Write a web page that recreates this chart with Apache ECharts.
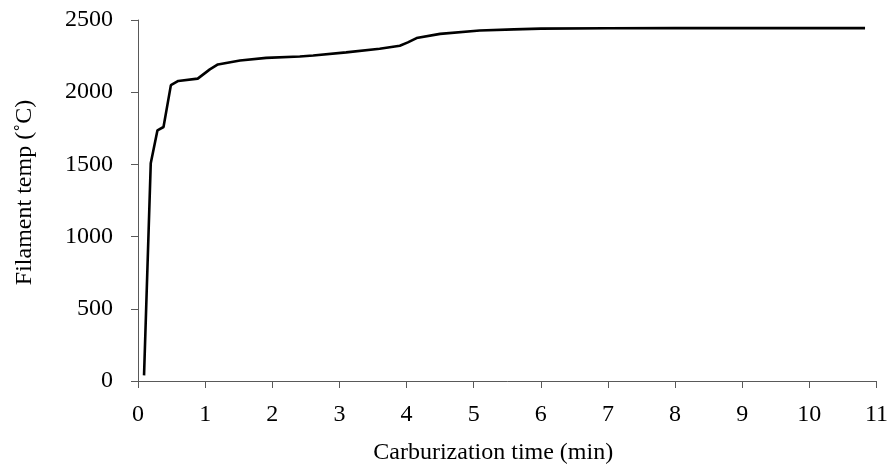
<!DOCTYPE html>
<html>
<head>
<meta charset="utf-8">
<script src="https://cdn.jsdelivr.net/npm/echarts@6/dist/echarts.min.js"></script>
<style>html,body{margin:0;padding:0;background:#fff}#c{width:891px;height:470px}</style>
</head>
<body>
<div id="c"></div>
<script>
var times = [0.09, 0.19, 0.29, 0.38, 0.49, 0.6, 0.89, 1.07, 1.19, 1.52, 1.91, 2.41, 2.61, 3.1, 3.6, 3.9, 4.02, 4.15, 4.5, 5.09, 5.6, 6.0, 7.0, 8.0, 9.0, 10.0, 10.83];
var temps = [39, 1508, 1736, 1759, 2049, 2078, 2094, 2158, 2192, 2219, 2238, 2247, 2254, 2276, 2301, 2322, 2345, 2375, 2404, 2427, 2435, 2440, 2443, 2444, 2444, 2444, 2444];
var xTicks = [0,1,2,3,4,5,6,7,8,9,10,11];
var yTicks = [0,500,1000,1500,2000,2500];

var pts = times.map(function(t,i){return [t, temps[i]];});
var font = '"Liberation Serif", "Times New Roman", serif';
var axisCol = '#595959';
var chart = echarts.init(document.getElementById('c'));
chart.setOption({
  animation: false,
  grid: {left: 138, right: 14, top: 20, bottom: 84},
  xAxis: {
    type: 'value', min: xTicks[0], max: xTicks[xTicks.length-1], interval: 1,
    name: 'Carburization time (min)', nameLocation: 'middle', nameGap: 60,
    nameTextStyle: {fontFamily: font, fontSize: 24, color: '#000', padding: [0, 28, 0, 0]},
    axisLine: {show: true, lineStyle: {color: axisCol, width: 1}},
    axisTick: {show: true, length: 7, lineStyle: {color: axisCol}},
    axisLabel: {fontFamily: font, fontSize: 24, color: '#000', margin: 22,
      formatter: function(v){return String(v);}},
    splitLine: {show: false}
  },
  yAxis: {
    type: 'value', min: yTicks[0], max: yTicks[yTicks.length-1], interval: 500,
    name: 'Filament temp (˚C)', nameLocation: 'middle', nameGap: 101,
    nameTextStyle: {fontFamily: font, fontSize: 24, color: '#000', padding: [0, 0, 0, 16]},
    axisLine: {show: true, lineStyle: {color: axisCol, width: 1}},
    axisTick: {show: true, length: 7, lineStyle: {color: axisCol}},
    axisLabel: {fontFamily: font, fontSize: 24, color: '#000', margin: 25,
      formatter: function(v){return String(v);}},
    splitLine: {show: false}
  },
  series: [{
    type: 'line', data: pts, showSymbol: false, smooth: false,
    lineStyle: {color: '#000', width: 2.6}
  }]
});
</script>
</body>
</html>
